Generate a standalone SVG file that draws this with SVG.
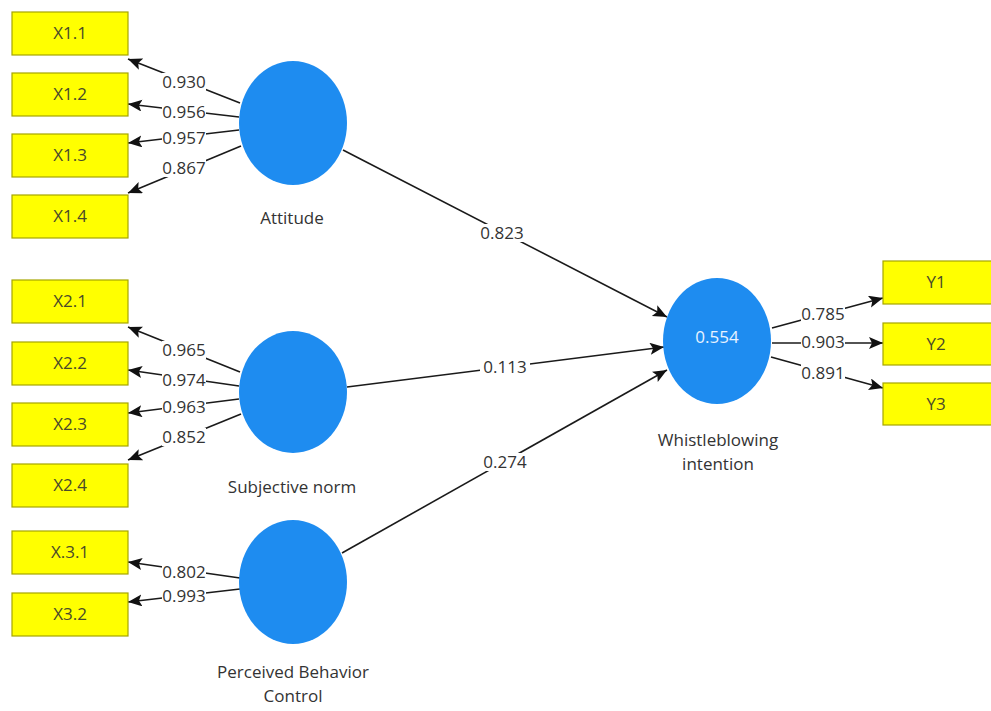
<svg xmlns="http://www.w3.org/2000/svg" width="991" height="711" viewBox="0 0 991 711">
<defs>
<marker id="ah" markerUnits="userSpaceOnUse" markerWidth="15" markerHeight="13" refX="14" refY="6" orient="auto">
<path d="M0,0 L14,6 L0,12 L3,6 z" fill="#111"/>
</marker>
<style>
.box{fill:#ffff00;stroke:#a6a600;stroke-width:1.2}
.bt{font-family:"Open Sans","Liberation Sans",sans-serif;font-size:17px;fill:#4a4a2a;text-anchor:middle}
.lv{fill:#1e8cf0}
.lt{font-family:"Open Sans","Liberation Sans",sans-serif;font-size:17px;fill:#333;text-anchor:middle}
.ln{stroke:#1a1a1a;stroke-width:1.6;fill:none;marker-end:url(#ah)}
.bg{fill:#ffffff}
.num{font-family:"Open Sans","Liberation Sans",sans-serif;font-size:17px;fill:#333;text-anchor:middle}
</style>
</defs>
<rect width="991" height="711" fill="#ffffff"/>

<g id="connectors">
<line class="ln" x1="240" y1="103" x2="128" y2="59"/>
<line class="ln" x1="239" y1="117" x2="128" y2="104"/>
<line class="ln" x1="239" y1="130" x2="128" y2="143"/>
<line class="ln" x1="241" y1="146" x2="128" y2="193"/>
<line class="ln" x1="240" y1="372" x2="128" y2="327"/>
<line class="ln" x1="239" y1="386" x2="128" y2="370"/>
<line class="ln" x1="239" y1="399" x2="128" y2="413"/>
<line class="ln" x1="241" y1="414" x2="128" y2="460"/>
<line class="ln" x1="240" y1="578" x2="128" y2="562"/>
<line class="ln" x1="240" y1="589" x2="128" y2="602"/>
<line class="ln" x1="343" y1="150" x2="667" y2="317"/>
<line class="ln" x1="347" y1="387" x2="664" y2="347"/>
<line class="ln" x1="342" y1="553" x2="667" y2="370"/>
<line class="ln" x1="772" y1="328" x2="883" y2="298"/>
<line class="ln" x1="772" y1="343" x2="883" y2="343"/>
<line class="ln" x1="771" y1="357" x2="883" y2="388"/>
<g id="labels">
<rect class="bg" x="162" y="73" width="44" height="18"/><text class="num" x="184" y="88">0.930</text>
<rect class="bg" x="162" y="103" width="44" height="18"/><text class="num" x="184" y="118">0.956</text>
<rect class="bg" x="162" y="129" width="44" height="18"/><text class="num" x="184" y="144">0.957</text>
<rect class="bg" x="162" y="159" width="44" height="18"/><text class="num" x="184" y="174">0.867</text>
<rect class="bg" x="162" y="341" width="44" height="18"/><text class="num" x="184" y="356">0.965</text>
<rect class="bg" x="162" y="371" width="44" height="18"/><text class="num" x="184" y="386">0.974</text>
<rect class="bg" x="162" y="398" width="44" height="18"/><text class="num" x="184" y="413">0.963</text>
<rect class="bg" x="162" y="428" width="44" height="18"/><text class="num" x="184" y="443">0.852</text>
<rect class="bg" x="162" y="563" width="44" height="18"/><text class="num" x="184" y="578">0.802</text>
<rect class="bg" x="162" y="587" width="44" height="18"/><text class="num" x="184" y="602">0.993</text>
<rect class="bg" x="478" y="224" width="50" height="18"/><text class="num" x="502" y="239">0.823</text>
<rect class="bg" x="480" y="358" width="50" height="18"/><text class="num" x="505" y="373">0.113</text>
<rect class="bg" x="480" y="453" width="50" height="18"/><text class="num" x="505" y="468">0.274</text>
<rect class="bg" x="801" y="305" width="44" height="18"/><text class="num" x="823" y="320">0.785</text>
<rect class="bg" x="801" y="333" width="44" height="18"/><text class="num" x="823" y="348">0.903</text>
<rect class="bg" x="801" y="364" width="44" height="18"/><text class="num" x="823" y="379">0.891</text>
</g>
</g>

<g id="X1.1"><rect class="box" x="12" y="12" width="116" height="43"/><text class="bt" x="70" y="39">X1.1</text></g>
<g id="X1.2"><rect class="box" x="12" y="73" width="116" height="43"/><text class="bt" x="70" y="100">X1.2</text></g>
<g id="X1.3"><rect class="box" x="12" y="134" width="116" height="43"/><text class="bt" x="70" y="161">X1.3</text></g>
<g id="X1.4"><rect class="box" x="12" y="195" width="116" height="43"/><text class="bt" x="70" y="222">X1.4</text></g>
<g id="X2.1"><rect class="box" x="12" y="280" width="116" height="43"/><text class="bt" x="70" y="307">X2.1</text></g>
<g id="X2.2"><rect class="box" x="12" y="342" width="116" height="43"/><text class="bt" x="70" y="369">X2.2</text></g>
<g id="X2.3"><rect class="box" x="12" y="403" width="116" height="43"/><text class="bt" x="70" y="430">X2.3</text></g>
<g id="X2.4"><rect class="box" x="12" y="464" width="116" height="43"/><text class="bt" x="70" y="491">X2.4</text></g>
<g id="X3.1"><rect class="box" x="12" y="531" width="116" height="43"/><text class="bt" x="70" y="558">X.3.1</text></g>
<g id="X3.2"><rect class="box" x="12" y="593" width="116" height="43"/><text class="bt" x="70" y="620">X3.2</text></g>
<g id="Y1"><rect class="box" x="883" y="261" width="120" height="43"/><text class="bt" x="936" y="288">Y1</text></g>
<g id="Y2"><rect class="box" x="883" y="323" width="120" height="42"/><text class="bt" x="936" y="350">Y2</text></g>
<g id="Y3"><rect class="box" x="883" y="383" width="120" height="42"/><text class="bt" x="936" y="410">Y3</text></g>

<g id="Attitude"><ellipse class="lv" cx="293" cy="123" rx="54" ry="62"/><text class="lt" x="292" y="224">Attitude</text></g>
<g id="SubjectiveNorm"><ellipse class="lv" cx="293" cy="392" rx="54" ry="61"/><text class="lt" x="292" y="493">Subjective norm</text></g>
<g id="PBC"><ellipse class="lv" cx="293" cy="582" rx="54" ry="62"/><text class="lt" x="293" y="678">Perceived Behavior</text><text class="lt" x="293" y="702">Control</text></g>
<g id="WhistleblowingIntention"><ellipse class="lv" cx="717" cy="341" rx="54" ry="63"/><text class="lt" x="717" y="343" style="fill:#e8f3ff">0.554</text><text class="lt" x="718" y="446">Whistleblowing</text><text class="lt" x="718" y="470">intention</text></g>
</svg>
